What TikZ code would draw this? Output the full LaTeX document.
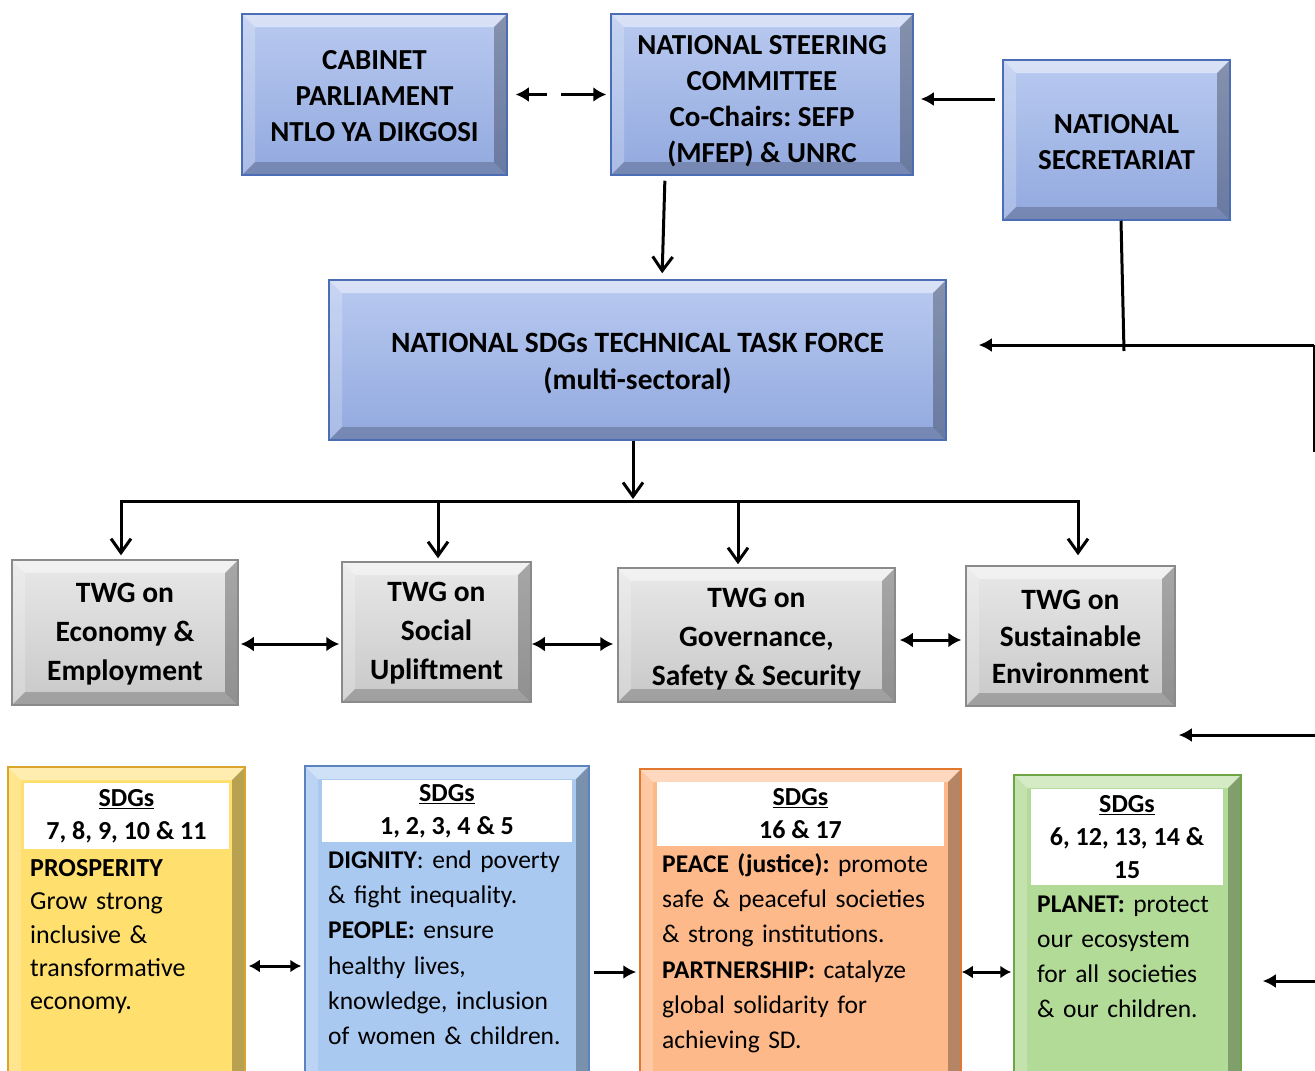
\documentclass[tikz,border=0pt]{standalone}
\usepackage{fontspec}
\setmainfont{Carlito}
\frenchspacing
\usetikzlibrary{arrows.meta}
\newcommand\tpad[1]{\rule{0pt}{#1pt}}
\definecolor{bluetop}{HTML}{B9CAF0}
\definecolor{bluebot}{HTML}{92A9DF}
\definecolor{blueedge}{HTML}{4A6DB5}
\definecolor{graytop}{HTML}{E8E8E8}
\definecolor{graybot}{HTML}{C8C8C8}
\definecolor{grayedge}{HTML}{8A8A8A}
\definecolor{yel}{HTML}{FFE06F}
\definecolor{yeledge}{HTML}{D9A62B}
\definecolor{lblue}{HTML}{A9C9F1}
\definecolor{lblueedge}{HTML}{5B84BE}
\definecolor{orng}{HTML}{FDB98A}
\definecolor{orngedge}{HTML}{E2772F}
\definecolor{grn}{HTML}{B3DB98}
\definecolor{grnedge}{HTML}{6EA646}
\tikzset{
  bevel/.style={path picture={
    \fill[white,opacity=.45] (path picture bounding box.north west) -- (path picture bounding box.north east) -- ([shift={(-13pt,-13pt)}]path picture bounding box.north east) -- ([shift={(13pt,-13pt)}]path picture bounding box.north west) -- cycle;
    \fill[white,opacity=.22] (path picture bounding box.north west) -- ([shift={(13pt,-13pt)}]path picture bounding box.north west) -- ([shift={(13pt,13pt)}]path picture bounding box.south west) -- (path picture bounding box.south west) -- cycle;
    \fill[black,opacity=.28] (path picture bounding box.north east) -- ([shift={(-13pt,-13pt)}]path picture bounding box.north east) -- ([shift={(-13pt,13pt)}]path picture bounding box.south east) -- (path picture bounding box.south east) -- cycle;
    \fill[black,opacity=.2] (path picture bounding box.south west) -- ([shift={(13pt,13pt)}]path picture bounding box.south west) -- ([shift={(-13pt,13pt)}]path picture bounding box.south east) -- (path picture bounding box.south east) -- cycle;
  }},
  topbox/.style={rectangle, inner sep=0pt, draw=blueedge, line width=1.5pt, top color=bluetop, bottom color=bluebot, bevel, align=center, font=\bfseries\fontsize{29}{36}\selectfont},
  twgbox/.style={rectangle, inner sep=0pt, draw=grayedge, line width=1.5pt, top color=graytop, bottom color=graybot, bevel, align=center, font=\bfseries\fontsize{29.5}{39}\selectfont},
  sdgbox/.style n args={2}{rectangle, inner sep=0pt, draw=#2, line width=1.5pt, fill=#1, bevel},
  hdr/.style={rectangle, inner sep=0pt, fill=white, align=center, font=\bfseries\fontsize{26}{33}\selectfont},
  body/.style={anchor=base west, inner sep=0pt, text width=300pt, align=left},
  ln/.style={line width=3pt},
  sgl/.style={line width=3pt, -{Latex[length=13pt,width=14pt]}},
  dbl/.style={line width=3pt, {Latex[length=13pt,width=15pt]}-{Latex[length=13pt,width=15pt]}},
  dbls/.style={line width=3pt, {Latex[length=11pt,width=13pt]}-{Latex[length=11pt,width=13pt]}},
  opn/.style={line width=3pt, -{Straight Barb[length=14pt,width=20pt,line width=3pt]}},
}
\begin{document}
\begin{tikzpicture}[x=1pt,y=-1pt]
\useasboundingbox (0,0) rectangle (1315,1071);
\begin{scope}
\clip (0,0) rectangle (1315,1071);
% top row
\node[topbox, minimum width=265pt, minimum height=161pt] (cab) at (374.5,94.5) {\tpad{22.7}CABINET\\PARLIAMENT\\NTLO YA DIKGOSI};
\node[topbox, minimum width=302pt, minimum height=161pt] (nsc) at (762,94.5) {\tpad{31.7}NATIONAL STEERING\\COMMITTEE\\Co-Chairs: SEFP\\(MFEP) \& UNRC};
\node[topbox, minimum width=227pt, minimum height=160pt] (ns) at (1116.5,140) {\tpad{22.7}NATIONAL\\SECRETARIAT};
\node[topbox, minimum width=617pt, minimum height=160pt, font=\bfseries\fontsize{29.5}{37}\selectfont] (ttf) at (637.5,360) {\tpad{27}NATIONAL SDGs TECHNICAL TASK FORCE\\(multi-sectoral)};
% TWG row
\node[twgbox, minimum width=226pt, minimum height=145pt] (twg1) at (125,632.5) {\tpad{23}TWG on\\Economy \&\\Employment};
\node[twgbox, minimum width=189pt, minimum height=140pt] (twg2) at (436.5,632) {\tpad{22}TWG on\\Social\\Upliftment};
\node[twgbox, minimum width=277pt, minimum height=134pt] (twg3) at (756.5,635) {\tpad{27}TWG on\\Governance,\\Safety \& Security};
\node[twgbox, minimum width=209pt, minimum height=140pt, font=\bfseries\fontsize{29.5}{37}\selectfont] (twg4) at (1070.5,636) {\tpad{21}TWG on\\Sustainable\\Environment};
% SDG row
\node[sdgbox={yel}{yeledge}, minimum width=237pt, minimum height=333pt] (sdg1) at (126.5,933.5) {};
\node[sdgbox={lblue}{lblueedge}, minimum width=284pt, minimum height=334pt] (sdg2) at (447,933) {};
\node[sdgbox={orng}{orngedge}, minimum width=321pt, minimum height=331pt] (sdg3) at (800.5,934.5) {};
\node[sdgbox={grn}{grnedge}, minimum width=227pt, minimum height=325pt] (sdg4) at (1127.5,937.5) {};
\node[hdr, minimum width=205pt, minimum height=66pt] (h1) at (126.5,816) {\underline{SDGs}\\7, 8, 9, 10 \& 11};
\node[hdr, minimum width=250pt, minimum height=62pt] (h2) at (447,811) {\underline{SDGs}\\1, 2, 3, 4 \& 5};
\node[hdr, minimum width=287pt, minimum height=64pt] (h3) at (800.5,814) {\underline{SDGs}\\16 \& 17};
\node[hdr, minimum width=192pt, minimum height=96pt] (h4) at (1127,837) {\underline{SDGs}\\6, 12, 13, 14 \&\\15};
\node[body, font=\fontsize{26}{33.3}\selectfont] (t1) at (30,876.5) {\textbf{PROSPERITY}\\Grow strong\\inclusive \&\\transformative\\economy.};
\node[body, font=\fontsize{25.5}{35.2}\selectfont] (t2) at (328,868.5) {\textbf{DIGNITY}: end poverty\\\& fight inequality.\\\textbf{PEOPLE:} ensure\\healthy lives,\\knowledge, inclusion\\of women \& children.};
\node[body, font=\fontsize{25.5}{35.2}\selectfont] (t3) at (662,872.5) {\textbf{PEACE (justice):} promote\\safe \& peaceful societies\\\& strong institutions.\\\textbf{PARTNERSHIP:} catalyze\\global solidarity for\\achieving SD.};
\node[body, font=\fontsize{25.5}{35}\selectfont] (t4) at (1037,912.5) {\textbf{PLANET:} protect\\our ecosystem\\for all societies\\\& our children.};
% coordinates
\coordinate (j1) at (1124,351);
\coordinate (r1) at (1314,345);
\coordinate (r2) at (1314,452);
\coordinate (r3) at (1317,735);
\coordinate (r4) at (1317,981);
\coordinate (bt) at (633,501);
\coordinate (b1) at (121,501);
\coordinate (b2) at (438,501);
\coordinate (b3) at (738,501);
\coordinate (b4) at (1078,501);
\coordinate (y1) at (0,644);
\coordinate (y2) at (0,640);
\coordinate (y3) at (0,966);
\coordinate (y4) at (0,972);
% top connectors
\draw[dbl, dash pattern=on 20pt off 14pt on 80pt, shorten <=8pt, shorten >=4pt] (cab.east) -- (nsc.west);
\draw[sgl, shorten <=7pt, shorten >=7pt] ([yshift=41pt]ns.west) -- ([yshift=41pt]ns.west -| nsc.east);
\draw[opn, shorten <=5pt, shorten >=6pt] ([xshift=-97pt]nsc.south) -- ([xshift=24.5pt]ttf.north);
\draw[ln] ([xshift=4.5pt]ns.south) -- (j1);
\draw[sgl, shorten >=32pt] (r1) -- (r1 -| ttf.east);
\draw[ln] (r1) -- (r2);
\draw[sgl, shorten >=3pt] (r3) -- (r3 -| twg4.east);
\draw[sgl, shorten >=21pt] (r4) -- (r4 -| sdg4.east);
% bus
\draw[opn, shorten >=2pt] (ttf.south -| bt) -- (bt);
\draw[ln, line cap=rect] (b1) -- (b4);
\draw[opn, shorten >=4pt] (b1) -- (b1 |- twg1.north);
\draw[opn, shorten >=3pt] (b2) -- (b2 |- twg2.north);
\draw[opn, shorten >=3pt] (b3) -- (b3 |- twg3.north);
\draw[opn, shorten >=10pt] (b4) -- (b4 |- twg4.north);
% TWG links
\draw[dbl, shorten <=2pt, shorten >=2pt] (twg1.east |- y1) -- (twg2.west |- y1);
\draw[dbl, shorten >=4pt] (twg2.east |- y1) -- (twg3.west |- y1);
\draw[dbl, shorten <=4pt, shorten >=4pt] (twg3.east |- y2) -- (twg4.west |- y2);
% SDG links
\draw[dbls, shorten <=3pt, shorten >=3pt] (sdg1.east |- y3) -- (sdg2.west |- y3);
\draw[sgl, shorten <=4pt, shorten >=3pt] (sdg2.east |- y4) -- (sdg3.west |- y4);
\draw[dbls, shorten >=2pt] (sdg3.east |- y4) -- (sdg4.west |- y4);
\end{scope}
\end{tikzpicture}
\end{document}
